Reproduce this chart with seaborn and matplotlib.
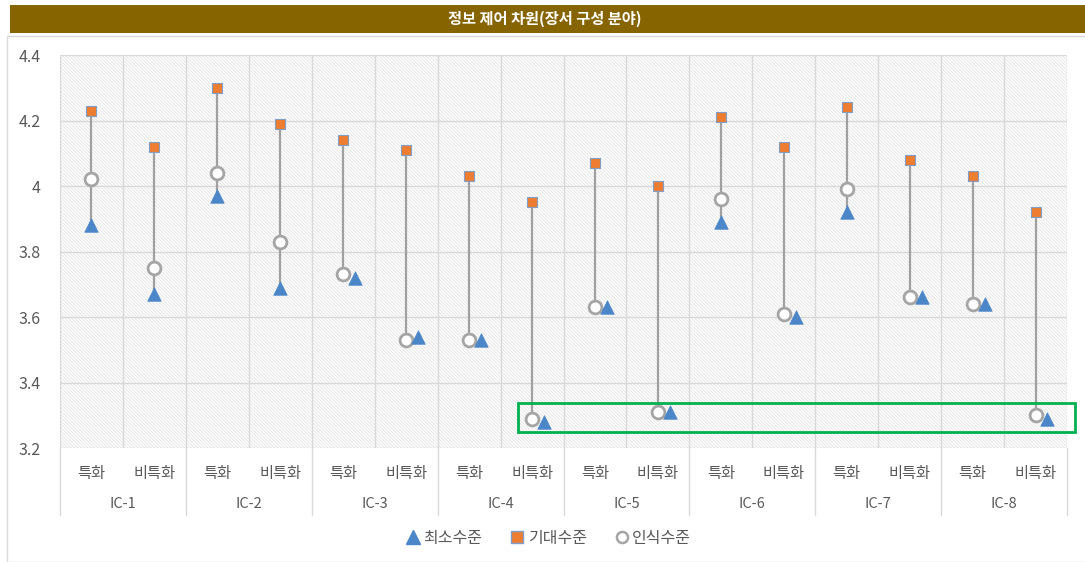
import pandas as pd
import matplotlib.pyplot as plt
import seaborn as sns
from matplotlib.patches import Rectangle
from matplotlib.lines import Line2D

# data
groups = ['IC-1', 'IC-2', 'IC-3', 'IC-4', 'IC-5', 'IC-6', 'IC-7', 'IC-8']
subcats = ['특화', '비특화']
min_level = [3.88, 3.67, 3.97, 3.69, 3.72, 3.54, 3.53, 3.28,
             3.63, 3.31, 3.89, 3.60, 3.92, 3.66, 3.64, 3.29]
expected = [4.23, 4.12, 4.30, 4.19, 4.14, 4.11, 4.03, 3.95,
            4.07, 4.00, 4.21, 4.12, 4.24, 4.08, 4.03, 3.92]
perceived = [4.02, 3.75, 4.04, 3.83, 3.73, 3.53, 3.53, 3.29,
             3.63, 3.31, 3.96, 3.61, 3.99, 3.66, 3.64, 3.30]

sns.set_style("white")
plt.rcParams['font.family'] = ['Noto Sans CJK KR', 'DejaVu Sans']
plt.rcParams['hatch.linewidth'] = 0.5

n = len(groups) * len(subcats)
xs = list(range(n))
# triangles that sit on top of the circle get nudged to the right
tri_x = [x + 0.19 if abs(m - p) < 0.03 else x for x, m, p in zip(xs, min_level, perceived)]

fig = plt.figure(figsize=(10.85, 5.62), dpi=100)
ax = fig.add_axes([60 / 1085, 1 - 448 / 562, 1007 / 1085, 393 / 562])

# frame and title bar
fig.patches.append(Rectangle((7 / 1085, 0), 1, 1 - 36 / 562, transform=fig.transFigure,
                             facecolor='white', edgecolor='#d9d9d9', lw=1, zorder=-10))
fig.patches.append(Rectangle((10 / 1085, 1 - 33 / 562), 1, 28 / 562, transform=fig.transFigure,
                             facecolor='#866400', edgecolor='none', zorder=-5))
fig.text(545 / 1085, 1 - 19 / 562, '정보 제어 차원(장서 구성 분야)', color='white',
         fontsize=11, fontweight='bold', ha='center', va='center')

# hatched plot area
ax.add_patch(Rectangle((0, 0), 1, 1, transform=ax.transAxes, facecolor='white',
                       edgecolor='#dedede', hatch='\\' * 10, lw=0, zorder=-3))

ax.set_xlim(-0.5, n - 0.5)
ax.set_ylim(3.2, 4.4)
yt = [3.2, 3.4, 3.6, 3.8, 4.0, 4.2, 4.4]
ax.set_yticks(yt)
ax.set_yticklabels([f'{v:g}' for v in yt])
for v in yt:
    ax.axhline(v, color='#d9d9d9', lw=1, zorder=-2)
for i in range(n + 1):
    ax.axvline(i - 0.5, color='#d9d9d9', lw=1, zorder=-2)
ax.set_xticks([])
ax.tick_params(axis='y', length=0, pad=14, labelsize=11.5, labelcolor='#595959')
for s in ax.spines.values():
    s.set_visible(False)

# high-low lines
lows = [min(a, b, c) for a, b, c in zip(min_level, expected, perceived)]
highs = [max(a, b, c) for a, b, c in zip(min_level, expected, perceived)]
ax.vlines(xs, lows, highs, color='#a0a0a0', lw=1.6, zorder=2)

sns.scatterplot(x=xs, y=expected, marker='s', s=60, color='#ed7d31',
                edgecolor='#7f9fc8', linewidth=0.8, zorder=4, ax=ax)
sns.scatterplot(x=xs, y=perceived, marker='o', s=85, color='white',
                edgecolor='#a5a5a5', linewidth=2, zorder=4, ax=ax)
sns.scatterplot(x=tri_x, y=min_level, marker='^', s=95, color='#4a86c8',
                edgecolor='#4a86c8', linewidth=0.5, zorder=5, ax=ax)

# two level category axis
for i in range(n):
    ax.text(i, -0.064, subcats[i % 2], transform=ax.get_xaxis_transform(),
            ha='center', va='center', fontsize=11, color='#595959')
for g, name in enumerate(groups):
    ax.text(2 * g + 0.5, -0.142, name, transform=ax.get_xaxis_transform(),
            ha='center', va='center', fontsize=10.5, color='#595959')
for g in range(len(groups) + 1):
    ax.plot([2 * g - 0.5, 2 * g - 0.5], [0, -0.17], transform=ax.get_xaxis_transform(),
            color='#d9d9d9', lw=1, clip_on=False)

# highlight box
ax.add_patch(Rectangle((6.78, 3.249), 8.85, 0.089, facecolor='none',
                       edgecolor='#00b050', lw=2, clip_on=False, zorder=6))

handles = [
    Line2D([], [], marker='^', ls='none', color='#4a86c8', markersize=10),
    Line2D([], [], marker='s', ls='none', color='#ed7d31', markeredgecolor='#7f9fc8', markersize=8),
    Line2D([], [], marker='o', ls='none', color='white', markeredgecolor='#a5a5a5',
           markeredgewidth=1.8, markersize=8),
]
fig.legend(handles, ['최소수준', '기대수준', '인식수준'], loc='center',
           bbox_to_anchor=(548 / 1085, 1 - 538 / 562), ncol=3, frameon=False,
           fontsize=11.5, handlelength=1.0, handletextpad=0.15, columnspacing=1.7,
           labelcolor='#595959')

fig.savefig('out.png', dpi=100)
